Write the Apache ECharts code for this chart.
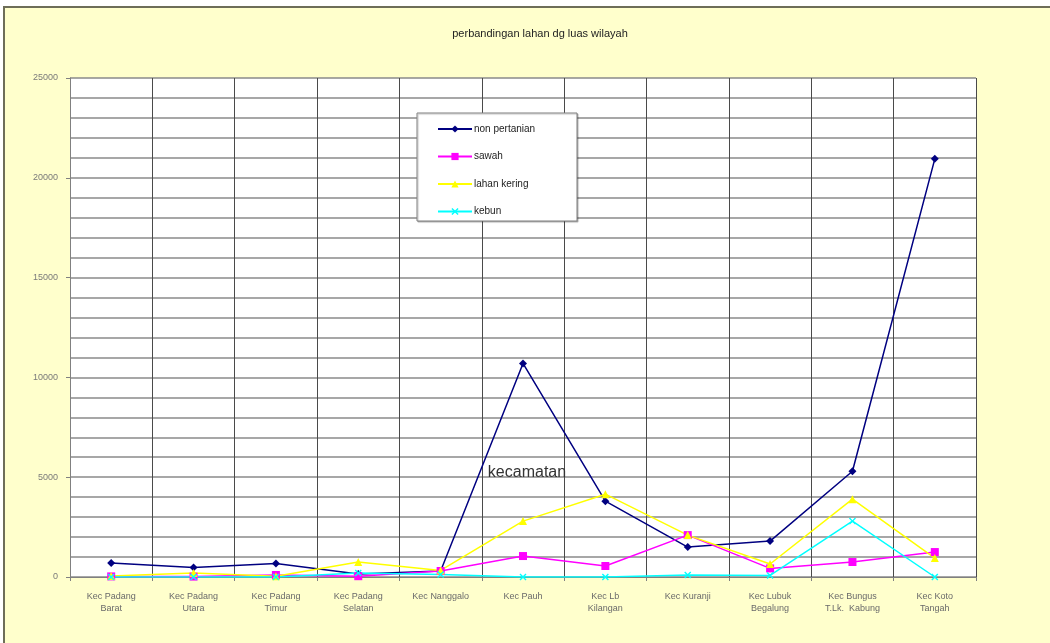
<!DOCTYPE html>
<html>
<head>
<meta charset="utf-8">
<script src="https://cdn.jsdelivr.net/npm/echarts@6/dist/echarts.min.js"></script>
<style>
  html, body { margin: 0; padding: 0; background: #ffffff; }
  #chart { width: 1050px; height: 643px; }
</style>
</head>
<body>
<div id="chart"></div>
<script>
// Districts (kecamatan) of Padang
const categories = [
  'Kec Padang\nBarat', 'Kec Padang\nUtara', 'Kec Padang\nTimur', 'Kec Padang\nSelatan',
  'Kec Nanggalo', 'Kec Pauh', 'Kec Lb\nKilangan', 'Kec Kuranji',
  'Kec Lubuk\nBegalung', 'Kec Bungus\nT.Lk.  Kabung', 'Kec Koto\nTangah'
];

// Land use area per district
const nonPertanian = [700, 480, 680, 150, 300, 10700, 3800, 1500, 1800, 5300, 20950];
const sawah        = [30, 20, 100, 40, 300, 1050, 550, 2100, 430, 750, 1250];
const lahanKering  = [50, 200, 40, 750, 330, 2800, 4150, 2100, 650, 3900, 950];
const kebun        = [0, 0, 0, 200, 120, 0, 0, 100, 80, 2800, 0];

const seriesNames = ['non pertanian', 'sawah', 'lahan kering', 'kebun'];
const yTickLabels = ['0', '5000', '10000', '15000', '20000', '25000'];

const FONT = '"Liberation Sans", Arial, sans-serif';
const crossPath = 'path://M0,1.4L1.4,0L5,3.6L8.6,0L10,1.4L6.4,5L10,8.6L8.6,10L5,6.4L1.4,10L0,8.6L3.6,5Z';

function lineSeries(name, data, color, symbol, size, width) {
  return {
    name: name,
    type: 'line',
    data: data,
    symbol: symbol,
    symbolSize: size,
    showSymbol: true,
    lineStyle: { color: color, width: width },
    itemStyle: { color: color, borderColor: color, borderWidth: 0 },
    emphasis: { disabled: true },
    z: 3
  };
}

const chart = echarts.init(document.getElementById('chart'), null, { renderer: 'canvas' });

chart.setOption({
  backgroundColor: '#ffffff',
  animation: false,
  graphic: [
    {
      type: 'rect', z: -10, silent: true,
      shape: { x: 4, y: 7, width: 1100, height: 700 },
      style: { fill: '#FFFFCC', stroke: '#6e6e58', lineWidth: 2 }
    },
    {
      type: 'rect', z: -9, silent: true,
      shape: { x: 70, y: 78, width: 906, height: 499 },
      style: { fill: '#ffffff' }
    },
    {
      type: 'text', z: 10, silent: true,
      style: {
        x: 540, y: 34, text: 'perbandingan lahan dg luas wilayah',
        font: '11px ' + FONT, fill: '#222', align: 'center', verticalAlign: 'middle'
      }
    },
    {
      type: 'text', z: 10, silent: true,
      style: {
        x: 527, y: 473, text: 'kecamatan',
        font: '16px ' + FONT, fill: '#333', align: 'center', verticalAlign: 'middle'
      }
    },
    {
      type: 'rect', z: 50, silent: true,
      shape: { x: 417, y: 113, width: 160, height: 108 },
      style: { fill: '#ffffff', stroke: '#808080', lineWidth: 1,
               shadowColor: 'rgba(0,0,0,0.25)', shadowOffsetX: 1, shadowOffsetY: 1, shadowBlur: 1 }
    }
  ],
  legend: {
    data: seriesNames,
    orient: 'vertical',
    left: 432,
    top: 119,
    itemWidth: 34,
    itemHeight: 9,
    itemGap: 17.5,
    z: 60,
    textStyle: { fontFamily: FONT, fontSize: 10, color: '#222', padding: [0, 0, 0, -3] },
    selectedMode: false
  },
  grid: { left: 70, right: 74, top: 78, bottom: 66, containLabel: false },
  xAxis: {
    type: 'category',
    data: categories,
    boundaryGap: true,
    axisLine: { show: true, lineStyle: { color: '#808080', width: 1 } },
    axisTick: { show: true, interval: 0, length: 4, lineStyle: { color: '#808080' } },
    axisLabel: {
      interval: 0, margin: 14, fontFamily: FONT, fontSize: 9, color: '#6a6a6a', lineHeight: 12
    },
    splitLine: { show: true, interval: 0, lineStyle: { color: '#4a4a4a', width: 1 } }
  },
  yAxis: {
    type: 'value',
    min: 0,
    max: 25000,
    interval: 5000,
    axisLine: { show: true, lineStyle: { color: '#808080', width: 1 } },
    axisTick: { show: true, length: 4, lineStyle: { color: '#808080' } },
    axisLabel: {
      margin: 12, fontFamily: FONT, fontSize: 9, color: '#7a7a7a',
      formatter: function (v) { return yTickLabels[v / 5000]; }
    },
    splitLine: { show: true, lineStyle: { color: '#8a8a8a', width: 1.5 } },
    minorTick: { show: false, splitNumber: 5 },
    minorSplitLine: { show: true, lineStyle: { color: '#8a8a8a', width: 1.5 } }
  },
  series: [
    lineSeries(seriesNames[0], nonPertanian, '#000080', 'diamond', 8, 1.5),
    lineSeries(seriesNames[1], sawah, '#FF00FF', 'rect', 8, 1.5),
    lineSeries(seriesNames[2], lahanKering, '#FFFF00', 'triangle', 8, 1.5),
    lineSeries(seriesNames[3], kebun, '#00FFFF', crossPath, 7, 1.5)
  ]
});
</script>
</body>
</html>
